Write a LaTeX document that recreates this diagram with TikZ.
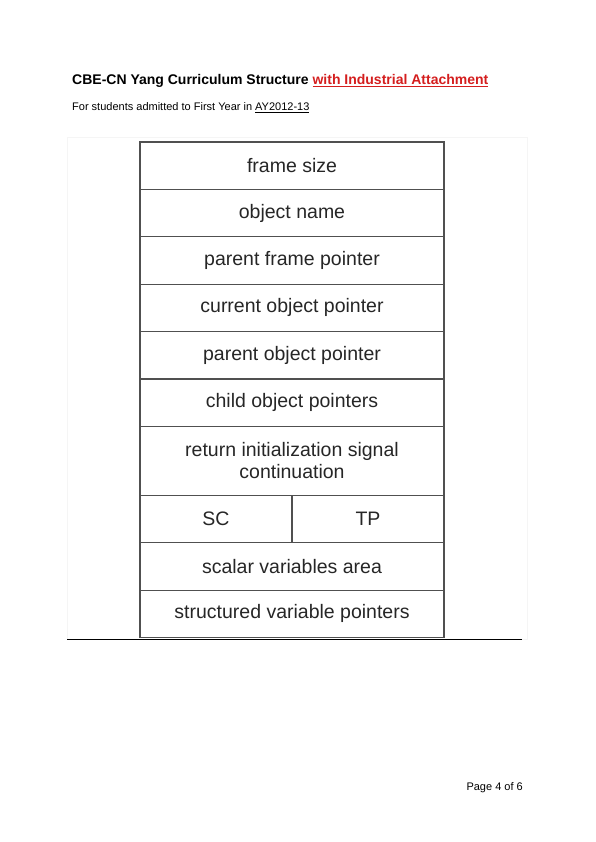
\documentclass[tikz,border=0pt]{standalone}
\usepackage{fontspec}
\setmainfont{Liberation Sans}
\usetikzlibrary{positioning}
\definecolor{rowline}{HTML}{505050}
\definecolor{attachred}{HTML}{D41E1E}
\tikzset{
	row/.style={draw=rowline, line width=1.3pt, minimum width=304pt, minimum height=47.4pt,
		inner sep=0pt, outer sep=0pt, align=center, text=black!85,
		font=\fontsize{19.5}{22}\selectfont},
	halfrow/.style={row, minimum width=152pt},
}
\begin{document}
\begin{tikzpicture}[x=1pt,y=-1pt]
	\useasboundingbox (0,0) rectangle (596,842);
	%heading
	\node[anchor=base west, inner sep=0pt, font=\fontsize{14}{16}\selectfont\bfseries] (title) at (72,85)
		{CBE-CN Yang Curriculum Structure \textcolor{attachred}{\underline{with Industrial Attachment}}};
	\node[anchor=base west, inner sep=0pt, font=\fontsize{11}{13}\selectfont] (subtitle) at (72,111)
		{For students admitted to First Year in \underline{AY2012-13}};
	
	%image frame
	\draw[black!4, line width=0.6pt] (67,137) rectangle (527,639);
	
	%frame layout
	\node[row, anchor=north west] (fsize) at (140,142) {frame size};
	\node[row, below=0pt of fsize] (oname) {object name};
	\node[row, below=0pt of oname] (pfptr) {parent frame pointer};
	\node[row, below=0pt of pfptr] (coptr) {current object pointer};
	\node[row, below=0pt of coptr] (poptr) {parent object pointer};
	\node[row, below=0pt of poptr] (chptr) {child object pointers};
	\node[row, below=0pt of chptr, minimum height=69pt] (retsig) {return initialization signal\\continuation};
	\node[halfrow, below=0pt of retsig.south west, anchor=north west] (sc) {SC};
	\node[halfrow, right=0pt of sc] (tp) {TP};
	\node[row, below=0pt of sc.south west, anchor=north west] (scalar) {scalar variables area};
	\node[row, below=0pt of scalar] (struct) {structured variable pointers};
	
	\draw[line width=1pt] (67,639) -- (522,639);
	
	\node[anchor=base east, inner sep=0pt, font=\fontsize{11}{13}\selectfont] (pagenum) at (523,790) {Page 4 of 6};
\end{tikzpicture}
\end{document}
